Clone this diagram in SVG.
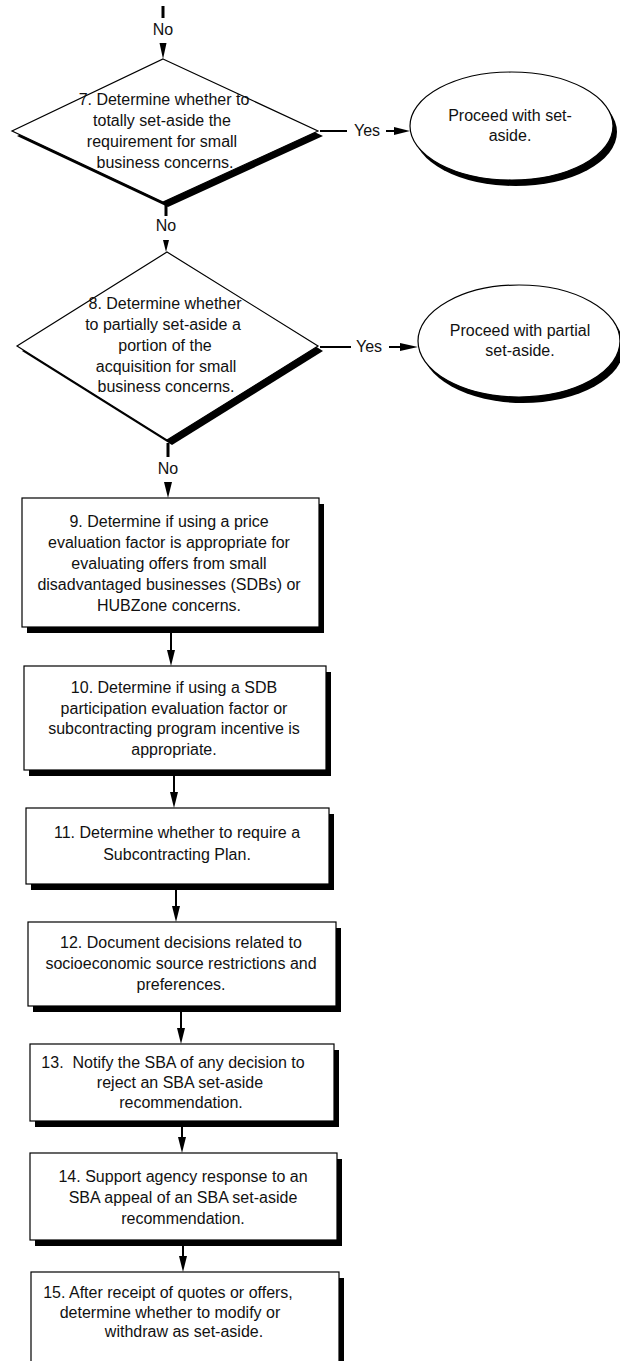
<svg xmlns="http://www.w3.org/2000/svg" width="620" height="1361" viewBox="0 0 620 1361">
<style>
text{font-family:"Liberation Sans",Arial,sans-serif;font-size:16px;fill:#111;text-anchor:middle;white-space:pre}
.sh{fill:#000;stroke:none}
.nd{fill:#fff;stroke:#000;stroke-width:1.2}
.ln{stroke:#000;stroke-width:2;fill:none}
.lnb{stroke:#000;stroke-width:3;fill:none}
.ah{fill:#000;stroke:none}
</style>
<rect width="620" height="1361" fill="#fff"/>
<g id="connectors">
<line class="lnb" x1="163" y1="6" x2="163" y2="18"/>
<text x="163" y="35">No</text>
<polygon class="ah" points="159.5,43 166.5,43 163,59"/>
<line class="lnb" x1="166" y1="205" x2="166" y2="216"/>
<text x="166" y="231">No</text>
<polygon class="ah" points="163,240 169,240 166,252"/>
<line class="lnb" x1="168" y1="443" x2="168" y2="457"/>
<text x="168" y="474">No</text>
<polygon class="ah" points="164,482 172,482 168,498"/>
<line class="ln" x1="320" y1="131" x2="347" y2="131"/>
<text x="367" y="136">Yes</text>
<line class="ln" x1="386" y1="131" x2="396" y2="131"/>
<polygon class="ah" points="394,127 394,135 410,131"/>
<line class="ln" x1="320" y1="347" x2="351" y2="347"/>
<text x="369" y="352">Yes</text>
<line class="ln" x1="389" y1="347" x2="402" y2="347"/>
<polygon class="ah" points="400,343 400,351 418,347"/>
<line class="ln" x1="171" y1="633" x2="171" y2="652"/>
<polygon class="ah" points="167,650 175,650 171,666"/>
<line class="ln" x1="174" y1="776" x2="174" y2="794"/>
<polygon class="ah" points="170,792 178,792 174,808"/>
<line class="ln" x1="176" y1="890" x2="176" y2="908"/>
<polygon class="ah" points="172,906 180,906 176,922"/>
<line class="ln" x1="181" y1="1012" x2="181" y2="1030"/>
<polygon class="ah" points="177,1028 185,1028 181,1044"/>
<line class="ln" x1="182" y1="1127" x2="182" y2="1139"/>
<polygon class="ah" points="178,1137 186,1137 182,1153"/>
<line class="ln" x1="183" y1="1246" x2="183" y2="1258"/>
<polygon class="ah" points="179,1256 187,1256 183,1272"/>
</g>
<g id="n7">
<polygon class="sh" points="168,64 323,136 168,207 17,136"/>
<polygon class="nd" points="163,59 318,131 163,202 12,131"/>
<text x="164" y="105">7. Determine whether to</text>
<text x="162" y="126">totally set-aside the</text>
<text x="162" y="147">requirement for small</text>
<text x="165" y="168">business concerns.</text>
</g>
<g id="yes7">
<ellipse class="sh" cx="515.5" cy="132" rx="101.5" ry="54"/>
<ellipse class="nd" cx="511.5" cy="126" rx="101.5" ry="54"/>
<text x="510" y="121">Proceed with set-</text>
<text x="510" y="141">aside.</text>
</g>
<g id="n8">
<polygon class="sh" points="172,257 323,351 172,445 22,351"/>
<polygon class="nd" points="167,252 318,346 167,440 17,346"/>
<text x="165" y="309">8. Determine whether</text>
<text x="163" y="330">to partially set-aside a</text>
<text x="165" y="351">portion of the</text>
<text x="166" y="372">acquisition for small</text>
<text x="166" y="392">business concerns.</text>
</g>
<g id="yes8">
<ellipse class="sh" cx="523" cy="347" rx="101" ry="56"/>
<ellipse class="nd" cx="519" cy="341" rx="101" ry="56"/>
<text x="520" y="336">Proceed with partial</text>
<text x="520" y="356">set-aside.</text>
</g>
<g id="n9">
<rect class="sh" x="27" y="504" width="297" height="129"/>
<rect class="nd" x="22" y="498" width="297" height="129"/>
<text x="169" y="527">9. Determine if using a price</text>
<text x="169" y="548">evaluation factor is appropriate for</text>
<text x="169" y="569">evaluating offers from small</text>
<text x="169" y="590">disadvantaged businesses (SDBs) or</text>
<text x="169" y="611">HUBZone concerns.</text>
</g>
<g id="n10">
<rect class="sh" x="29" y="672" width="302" height="104"/>
<rect class="nd" x="24" y="666" width="302" height="104"/>
<text x="174" y="693">10. Determine if using a SDB</text>
<text x="174" y="714">participation evaluation factor or</text>
<text x="174" y="734">subcontracting program incentive is</text>
<text x="174" y="755">appropriate.</text>
</g>
<g id="n11">
<rect class="sh" x="31" y="814" width="303" height="76"/>
<rect class="nd" x="26" y="808" width="303" height="76"/>
<text x="177" y="838">11. Determine whether to require a</text>
<text x="177" y="860">Subcontracting Plan.</text>
</g>
<g id="n12">
<rect class="sh" x="33" y="928" width="308" height="84"/>
<rect class="nd" x="28" y="922" width="308" height="84"/>
<text x="181" y="948">12. Document decisions related to</text>
<text x="181" y="969">socioeconomic source restrictions and</text>
<text x="181" y="990">preferences.</text>
</g>
<g id="n13">
<rect class="sh" x="35" y="1050" width="304" height="77"/>
<rect class="nd" x="30" y="1044" width="304" height="77"/>
<text x="173" y="1068">13.  Notify the SBA of any decision to</text>
<text x="180" y="1088">reject an SBA set-aside</text>
<text x="181" y="1108">recommendation.</text>
</g>
<g id="n14">
<rect class="sh" x="35" y="1159" width="307" height="87"/>
<rect class="nd" x="30" y="1153" width="307" height="87"/>
<text x="183" y="1182">14. Support agency response to an</text>
<text x="183" y="1203">SBA appeal of an SBA set-aside</text>
<text x="183" y="1224">recommendation.</text>
</g>
<g id="n15">
<rect class="sh" x="36" y="1278" width="308" height="100"/>
<rect class="nd" x="31" y="1272" width="308" height="100"/>
<text x="168" y="1298">15. After receipt of quotes or offers,</text>
<text x="170" y="1318">determine whether to modify or</text>
<text x="184" y="1337">withdraw as set-aside.</text>
</g>
</svg>
